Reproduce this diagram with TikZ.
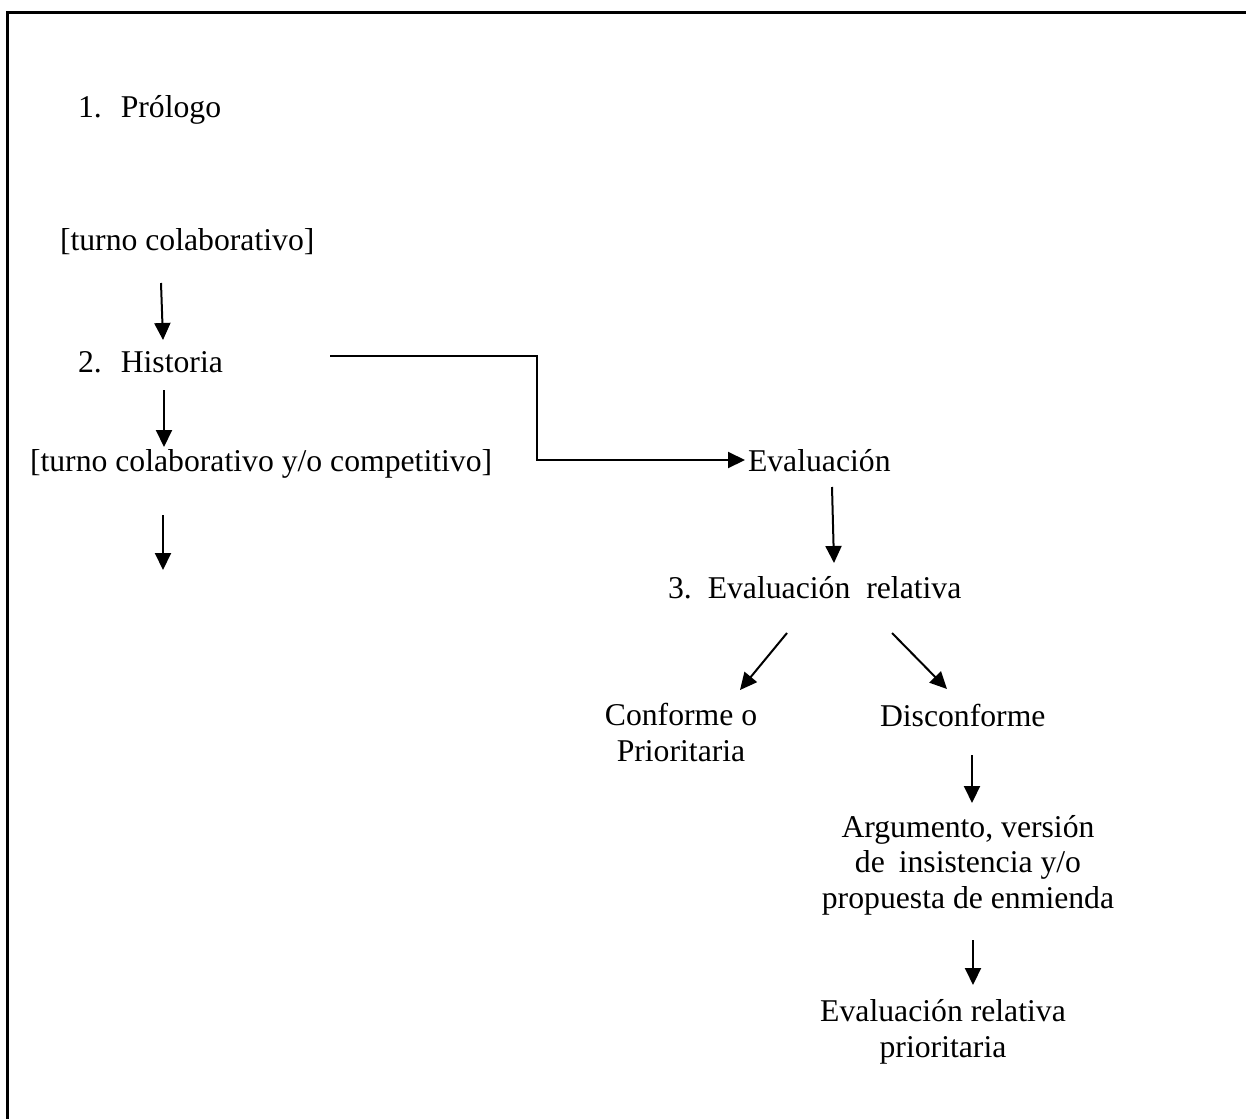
\documentclass[tikz,border=0pt]{standalone}
\usepackage{fontspec}
\setmainfont{Liberation Serif}
\usetikzlibrary{arrows.meta}
\begin{document}
\begin{tikzpicture}[x=1pt,y=-1pt,
  txt/.style={inner sep=0pt,outer sep=0pt,font=\fontsize{31.7}{35.5}\selectfont},
  lbl/.style={txt,anchor=base west},
  blk/.style={txt,align=center,anchor=base},
  arr/.style={line width=2pt,-{Triangle[length=17pt,width=16pt]}},
  conn/.style={line width=2pt}]
\useasboundingbox (0,0) rectangle (1246,1118);
\draw[line width=3pt] (7,1120) -- (7,13) -- (1248,13);
% texts
\node[lbl] (prologo) at (78,118) {1.\hspace{19pt}Prólogo};
\node[lbl] (turno1) at (60,250) {[turno colaborativo]};
\node[lbl] (historia) at (78,372) {2.\hspace{19pt}Historia};
\node[lbl] (turno2) at (30,471) {[turno colaborativo y/o competitivo]};
\node[lbl] (eval) at (748,471) {Evaluación};
\node[lbl] (evalrel) at (668,598) {3.\hspace{16pt}Evaluación\hspace{8pt} relativa};
\node[blk] (conforme) at (681,761) {Conforme o\\Prioritaria};
\node[lbl] (disconf) at (880,726) {Disconforme};
\node[blk] (argum) at (968,908) {Argumento, versión\\de\hspace{6pt} insistencia y/o\\propuesta de enmienda};
\node[blk] (evalprio) at (943,1057) {Evaluación relativa\\prioritaria};
% arrow ends
\coordinate (a1s) at (161,283); \coordinate (a1e) at (163,340);
\coordinate (a2s) at (164,390); \coordinate (a2e) at (164,447);
\coordinate (a3s) at (163,515); \coordinate (a3e) at (163,570);
\coordinate (c0) at (330,356); \coordinate (c1) at (537,356);
\coordinate (c2) at (537,460); \coordinate (c3) at (745,460);
\coordinate (a4s) at (832,487); \coordinate (a4e) at (834,563);
\coordinate (a5s) at (787,633); \coordinate (a5e) at (740,690);
\coordinate (a6s) at (892,633); \coordinate (a6e) at (947,689);
\coordinate (a7s) at (972,755); \coordinate (a7e) at (972,803);
\coordinate (a8s) at (973,940); \coordinate (a8e) at (973,985);
\draw[arr] (a1s) -- (a1e);
\draw[arr] (a2s) -- (a2e);
\draw[arr] (a3s) -- (a3e);
\draw[arr] (c0) -- (c1) -- (c2) -- (c3);
\draw[arr] (a4s) -- (a4e);
\draw[arr] (a5s) -- (a5e);
\draw[arr] (a6s) -- (a6e);
\draw[arr] (a7s) -- (a7e);
\draw[arr] (a8s) -- (a8e);
\end{tikzpicture}
\end{document}
